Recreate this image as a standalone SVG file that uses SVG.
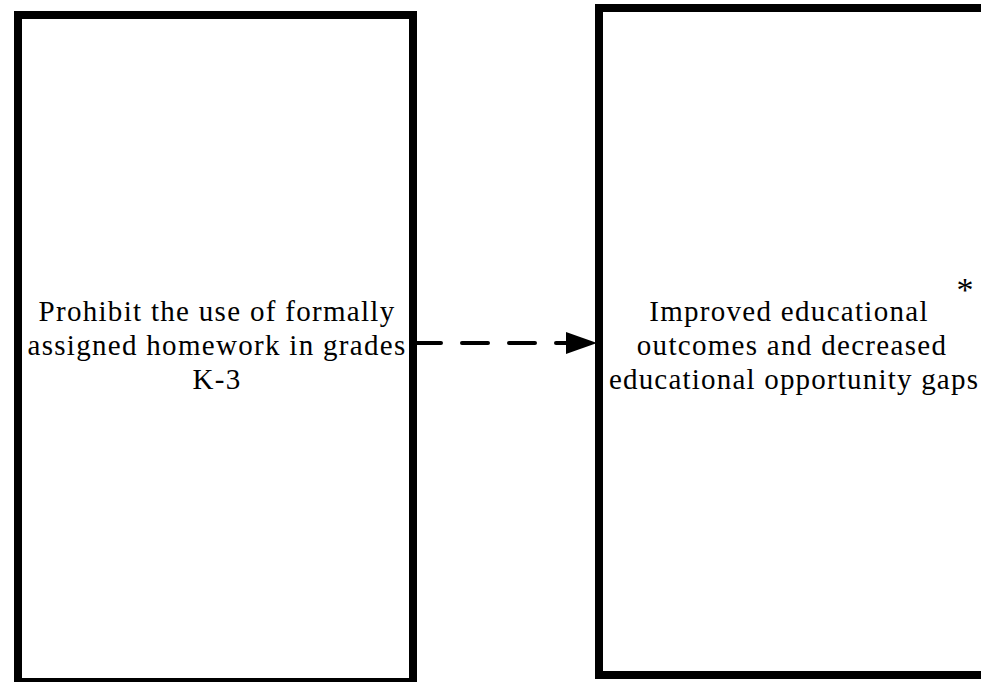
<svg xmlns="http://www.w3.org/2000/svg" width="981" height="682" viewBox="0 0 981 682">
  <style>
    .box { fill: #ffffff; stroke: #000000; stroke-width: 8; }
    .lbl { font-family: "Liberation Serif", "Times New Roman", serif; font-size: 29px; letter-spacing: 1.3px; fill: #000000; text-anchor: middle; }
    .conn { fill: none; stroke: #000000; stroke-width: 4; stroke-dasharray: 26 21; stroke-linecap: round; }
  </style>
  <rect x="0" y="0" width="981" height="682" fill="#ffffff"/>
  <g id="node-prohibit">
    <rect class="box" x="18" y="15" width="395" height="667"/>
    <text class="lbl" x="217" y="321">Prohibit the use of formally</text>
    <text class="lbl" x="217" y="355">assigned homework in grades</text>
    <text class="lbl" x="217" y="389">K-3</text>
  </g>
  <g id="node-outcomes">
    <rect class="box" x="599" y="8" width="400" height="667"/>
    <text class="lbl" x="789" y="321">Improved educational</text>
    <text class="lbl" x="792" y="355">outcomes and decreased</text>
    <text class="lbl" x="794" y="389" style="letter-spacing:1.2px">educational opportunity gaps</text>
    <text class="lbl" x="965" y="301" style="letter-spacing:0;font-size:34px">*</text>
  </g>
  <g id="connectors">
    <line class="conn" x1="415" y1="343" x2="567" y2="343"/>
    <polygon points="566,332 597,343 566,354" fill="#000000"/>
  </g>
</svg>
